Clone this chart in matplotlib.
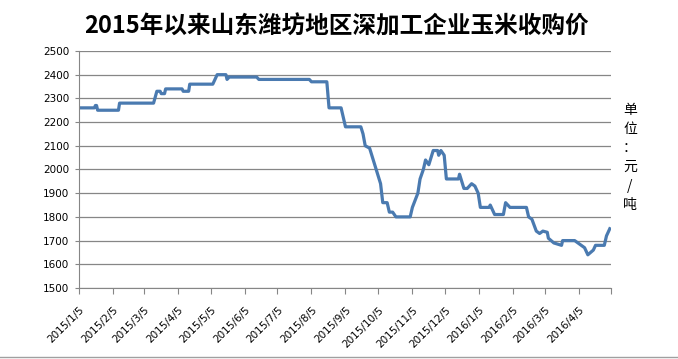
import matplotlib
matplotlib.use('Agg')
import matplotlib.pyplot as plt
import pandas as pd

plt.rcParams['font.family'] = ['DejaVu Sans', 'Noto Sans CJK SC']

title = '2015年以来山东潍坊地区深加工企业玉米收购价'
unit = '单位：元/吨'

# turning points of the price line
dates = ['2015-01-05', '2015-01-19', '2015-01-20', '2015-01-21', '2015-01-22',
         '2015-02-10', '2015-02-11', '2015-03-14', '2015-03-17', '2015-03-20',
         '2015-03-21', '2015-03-24', '2015-03-25', '2015-04-09', '2015-04-10',
         '2015-04-15', '2015-04-16', '2015-05-07', '2015-05-09', '2015-05-11',
         '2015-05-19', '2015-05-20', '2015-05-22', '2015-06-16', '2015-06-18',
         '2015-08-03', '2015-08-05', '2015-08-19', '2015-08-21', '2015-09-01',
         '2015-09-05', '2015-09-19', '2015-09-21', '2015-09-23', '2015-09-27',
         '2015-10-07', '2015-10-09', '2015-10-13', '2015-10-15', '2015-10-18',
         '2015-10-21', '2015-11-03', '2015-11-05', '2015-11-10', '2015-11-12',
         '2015-11-15', '2015-11-17', '2015-11-20', '2015-11-24', '2015-11-28',
         '2015-11-29', '2015-12-01', '2015-12-04', '2015-12-06', '2015-12-17',
         '2015-12-18', '2015-12-22', '2015-12-25', '2015-12-29', '2016-01-01',
         '2016-01-04', '2016-01-06', '2016-01-14', '2016-01-15', '2016-01-19',
         '2016-01-27', '2016-01-29', '2016-02-02', '2016-02-17', '2016-02-19',
         '2016-02-22', '2016-02-26', '2016-02-29', '2016-03-03', '2016-03-07',
         '2016-03-08', '2016-03-13', '2016-03-20', '2016-03-21', '2016-04-01',
         '2016-04-04', '2016-04-10', '2016-04-13', '2016-04-18', '2016-04-20',
         '2016-04-28', '2016-04-30', '2016-05-03']
prices = [2260, 2260, 2270, 2270, 2250,
          2250, 2280, 2280, 2330, 2330,
          2320, 2320, 2340, 2340, 2330,
          2330, 2360, 2360, 2380, 2400,
          2400, 2380, 2390, 2390, 2380,
          2380, 2370, 2370, 2260, 2260,
          2180, 2180, 2150, 2100, 2090,
          1940, 1860, 1860, 1820, 1820,
          1800, 1800, 1840, 1900, 1960,
          2000, 2040, 2020, 2080, 2080,
          2060, 2080, 2060, 1960, 1960,
          1980, 1920, 1920, 1940, 1930,
          1900, 1840, 1840, 1850, 1810,
          1810, 1860, 1840, 1840, 1800,
          1790, 1740, 1730, 1740, 1735,
          1710, 1690, 1680, 1700, 1700,
          1690, 1670, 1640, 1660, 1680,
          1680, 1720, 1750]

tick_dates = pd.date_range('2015-01-01', '2016-04-01', freq='MS') + pd.Timedelta(days=4)
tick_labels = [f'{d.year}/{d.month}/{d.day}' for d in tick_dates]
x_end = pd.Timestamp('2016-05-04')

x = pd.to_datetime(dates)

fig = plt.figure(figsize=(6.78, 3.59), dpi=100)
ax = fig.add_axes([0.1165, 0.1978, 0.7845, 0.6602])

ax.plot(x, prices, color='#4A7AB0', lw=2.3, solid_joinstyle='round')

ax.set_ylim(1500, 2500)
ax.set_yticks(range(1500, 2501, 100))
ax.set_xlim(pd.Timestamp('2015-01-05'), x_end)
ax.set_xticks(list(tick_dates) + [x_end])
ax.set_xticklabels(tick_labels + [''], rotation=45, ha='right', va='top',
                   rotation_mode='anchor', fontsize=7.5)
ax.tick_params(axis='y', labelsize=7.5, length=3, color='#868686', pad=4)
ax.tick_params(axis='x', length=4, color='#868686', pad=8)

ax.grid(axis='y', color='#868686', lw=0.9)
ax.set_axisbelow(True)
for s in ['top', 'right']:
    ax.spines[s].set_visible(False)
ax.spines['left'].set_color('#868686')
ax.spines['bottom'].set_color('#868686')

fig.text(0.497, 0.927, title, ha='center', va='center', fontsize=17,
         fontweight='bold', family=['Noto Sans CJK SC', 'DejaVu Sans'])

for i, ch in enumerate(unit):
    fig.text(630 / 678, 1 - (110 + 19 * i) / 359, ch, ha='center', va='center',
             fontsize=10, family=['Noto Sans CJK SC', 'DejaVu Sans'])

fig.add_artist(plt.Line2D([0, 1], [1 - 357 / 359] * 2, color='#a0a0a0', lw=1))

fig.savefig('out.png', dpi=100)
